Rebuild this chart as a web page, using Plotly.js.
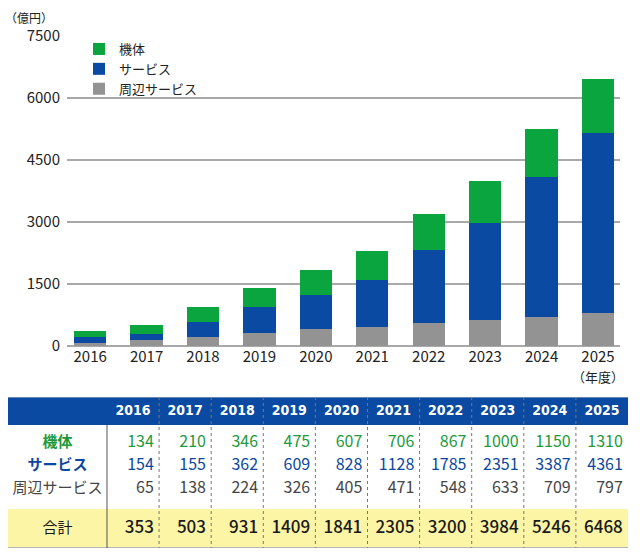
<!DOCTYPE html>
<html><head><meta charset="utf-8">
<script src="https://cdn.plot.ly/plotly-3.0.1.min.js"></script>
<style>html,body{margin:0;padding:0;background:#fff}</style>
</head><body><div id="chart" style="width:640px;height:556px"></div>
<script>
const years = ['2016','2017','2018','2019','2020','2021','2022','2023','2024','2025'];
const kitai = [134,210,346,475,607,706,867,1000,1150,1310];
const service = [154,155,362,609,828,1128,1785,2351,3387,4361];
const shuhen = [65,138,224,326,405,471,548,633,709,797];
const total = [353,503,931,1409,1841,2305,3200,3984,5246,6468];
const seriesNames = ['機体','サービス','周辺サービス'];
const totalLabel = '合計';
const yTicks = [0,1500,3000,4500,6000,7500];
const unitLabel = '（億円）';
const yearUnitLabel = '（年度）';

const GREEN = '#0aa53e', BLUE = '#0a4aa3', GRAY = '#939393';
const TXT_GREEN = '#1c9a3c', TXT_BLUE = '#0b47a0', TXT_GRAY = '#454545';
const JP = '"Noto Sans CJK JP", "Noto Sans", sans-serif';

const traces = [
  {type:'bar', name:seriesNames[2], x:years, y:shuhen, marker:{color:GRAY}},
  {type:'bar', name:seriesNames[1], x:years, y:service, marker:{color:BLUE}},
  {type:'bar', name:seriesNames[0], x:years, y:kitai, marker:{color:GREEN}}
];
traces.forEach(t => { t.xaxis='x'; t.yaxis='y'; t.hoverinfo='skip'; });

// table drawn on secondary axes
const idx = years.map((_, i) => i);
const rowY = {header:0.61, r0:2, r1:3, r2:4, total:5.74};
const rightX = idx.map(i => i + 0.5 - 0.1);
function textTrace(x, y, text, color, size, weight, pos, family) {
  return {type:'scatter', mode:'text', xaxis:'x2', yaxis:'y2', x:x, y:y, text:text,
    textposition:pos, showlegend:false, hoverinfo:'skip', cliponaxis:false,
    textfont:{color:color, size:size, weight:weight, family:family||JP}};
}
traces.push(textTrace(idx, idx.map(()=>rowY.header), years, '#ffffff', 14, 700, 'middle center', '"DejaVu Sans Condensed", "Roboto", sans-serif'));
traces.push(textTrace(rightX, idx.map(()=>rowY.r0), kitai.map(String), TXT_GREEN, 16, 400, 'middle left'));
traces.push(textTrace(rightX, idx.map(()=>rowY.r1), service.map(String), TXT_BLUE, 16, 400, 'middle left'));
traces.push(textTrace(rightX, idx.map(()=>rowY.r2), shuhen.map(String), TXT_GRAY, 16, 400, 'middle left'));
traces.push(textTrace(rightX, idx.map(()=>rowY.total), total.map(String), '#1a1a1a', 17, 500, 'middle left'));
const labX = -1.45;
traces.push(textTrace([labX,labX,labX,labX], [rowY.r0,rowY.r1,rowY.r2,rowY.total],
  [seriesNames[0],seriesNames[1],seriesNames[2],totalLabel], [TXT_GREEN,TXT_BLUE,TXT_GRAY,'#1a1a1a'], 15, [700,700,400,400], 'middle center'));

const shapes = [
  {type:'rect', xref:'x2', yref:'y2', x0:-2.4, x1:9.5, y0:0, y1:1.217, fillcolor:'#0b4aa2', line:{width:0}, layer:'below'},
  {type:'rect', xref:'x2', yref:'y2', x0:-2.4, x1:9.5, y0:4.87, y1:6.57, fillcolor:'#fcf5a5', line:{width:0}, layer:'below'},
  {type:'line', xref:'x2', yref:'y2', x0:-2.4, x1:9.5, y0:0, y1:0, line:{color:'#c8c8c8', width:1}},
  {type:'line', xref:'x2', yref:'y2', x0:-2.4, x1:9.5, y0:6.57, y1:6.57, line:{color:'#b5b5b5', width:2}},
  {type:'line', xref:'x2', yref:'y2', x0:-0.5, x1:-0.5, y0:1.217, y1:6.57, line:{color:'#555', width:1}}
];
for (let i = 0; i < years.length - 1; i++) {
  shapes.push({type:'line', xref:'x2', yref:'y2', x0:i+0.5, x1:i+0.5, y0:0, y1:6.57, line:{color:'#777', width:1, dash:'dot'}});
}

const layout = {
  width:640, height:556, margin:{l:0,r:0,t:0,b:0},
  paper_bgcolor:'#fff', plot_bgcolor:'rgba(0,0,0,0)',
  barmode:'stack', bargap:0.43, hovermode:false,
  font:{family:JP, color:'#222'},
  xaxis:{domain:[67/640, 620/640], anchor:'y', type:'category', range:[-0.41, 9.39],
    showgrid:false, zeroline:false, showline:false, ticks:'', tickfont:{size:15, color:'#222'}},
  yaxis:{domain:[210/556, 520/556], anchor:'x', range:[0,7500], tickvals:yTicks, ticktext:yTicks.map(String),
    showgrid:true, gridcolor:'#a9a9a9', gridwidth:1.5, zeroline:true, zerolinecolor:'#a9a9a9', zerolinewidth:1.5,
    showline:false, ticks:'', ticklabelstandoff:6, tickfont:{size:15, color:'#222'}},
  xaxis2:{domain:[8/640, 628/640], anchor:'y2', range:[-2.4, 9.5], visible:false, fixedrange:true},
  yaxis2:{domain:[8/556, 159/556], anchor:'x2', range:[6.57, 0], visible:false, fixedrange:true},
  legend:{x:79/640, y:(556-34)/556, xanchor:'left', yanchor:'top', traceorder:'reversed',
    font:{size:13, color:'#222'}, bgcolor:'rgba(0,0,0,0)', tracegroupgap:0},
  shapes:shapes,
  annotations:[
    {text:unitLabel, xref:'paper', yref:'paper', x:3/640, y:(556-17)/556, xanchor:'left', yanchor:'middle', showarrow:false, font:{size:12, color:'#222'}},
    {text:yearUnitLabel, xref:'x', yref:'paper', x:years.length-1, y:(556-376)/556, xanchor:'center', yanchor:'middle', showarrow:false, font:{size:13, color:'#222'}}
  ]
};
Plotly.newPlot('chart', traces, layout, {staticPlot:true, displayModeBar:false});
</script></body></html>
